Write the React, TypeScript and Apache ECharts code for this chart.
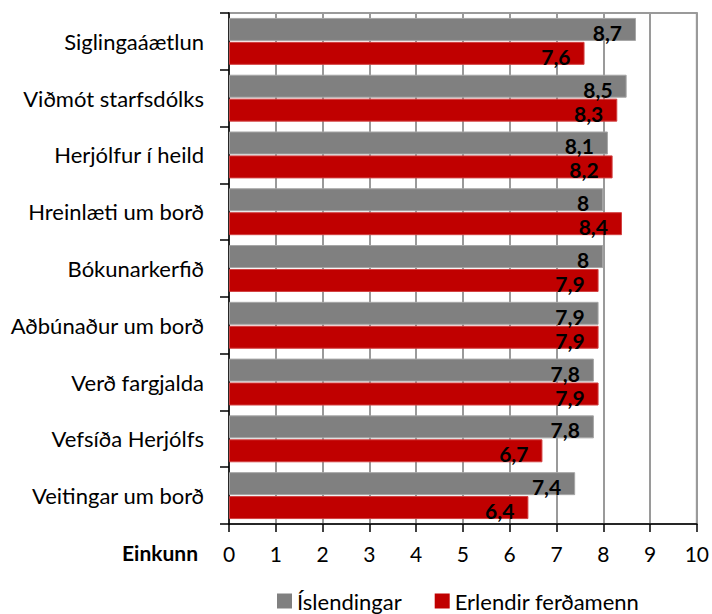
import React, { useEffect, useRef } from "react";
import * as echarts from "echarts";

const categories = [
  "Siglingaáætlun",
  "Viðmót starfsdólks",
  "Herjólfur í heild",
  "Hreinlæti um borð",
  "Bókunarkerfið",
  "Aðbúnaður um borð",
  "Verð fargjalda",
  "Vefsíða Herjólfs",
  "Veitingar um borð",
];
const islendingar = [8.7, 8.5, 8.1, 8, 8, 7.9, 7.8, 7.8, 7.4];
const erlendir = [7.6, 8.3, 8.2, 8.4, 7.9, 7.9, 7.9, 6.7, 6.4];
const xTicks = [0, 1, 2, 3, 4, 5, 6, 7, 8, 9, 10];

const FONT = "Lato, 'Open Sans', sans-serif";

export default function App() {
  const ref = useRef<HTMLDivElement>(null);
  useEffect(() => {
    document.body.style.margin = "0";
    document.body.style.overflow = "hidden";
    if (!ref.current) return;
    const chart = echarts.init(ref.current, undefined, { renderer: "svg" });
    const label = {
      show: true,
      position: "insideRight",
      distance: 14,
      offset: [0, 3],
      color: "#000",
      fontWeight: "bold",
      fontSize: 21,
      fontFamily: FONT,
      formatter: (p: any) => String(p.value).replace(".", ","),
    };
    chart.setOption({
      animation: false,
      textStyle: { fontFamily: FONT },
      grid: {
        left: 229,
        right: 14,
        top: 13,
        bottom: 90,
        show: true,
        borderColor: "#9a9a9a",
        borderWidth: 2,
      },
      legend: {
        top: 590,
        left: 277,
        padding: 0,
        icon: "rect",
        itemWidth: 15,
        itemHeight: 15,
        itemGap: 33,
        itemStyle: { borderWidth: 0 },
        textStyle: { fontSize: 22, color: "#000", fontFamily: FONT },
        data: ["Íslendingar", "Erlendir ferðamenn"],
      },
      xAxis: {
        type: "value",
        min: 0,
        max: 10,
        interval: 1,
        name: "Einkunn",
        nameLocation: "start",
        nameGap: 31,
        nameTextStyle: {
          fontWeight: "bold",
          fontSize: 21,
          color: "#000",
          fontFamily: FONT,
          verticalAlign: "top",
          padding: [18, 0, 0, 0],
        },
        axisLine: { show: true, lineStyle: { color: "#000", width: 1.5 } },
        axisTick: { show: true, length: 8, lineStyle: { color: "#000", width: 1.5 } },
        axisLabel: {
          fontSize: 21,
          color: "#000",
          margin: 19,
          fontFamily: FONT,
          formatter: (v: number) => (xTicks.includes(v) ? String(v) : ""),
        },
        splitLine: { show: true, lineStyle: { color: "#9a9a9a", width: 2 } },
      },
      yAxis: {
        type: "category",
        data: categories,
        inverse: true,
        axisLine: { show: true, lineStyle: { color: "#000", width: 1.5 } },
        axisTick: { show: true, length: 9, lineStyle: { color: "#000", width: 1.5 } },
        axisLabel: { fontSize: 22, color: "#000", margin: 25, fontFamily: FONT },
      },
      series: [
        {
          name: "Íslendingar",
          type: "bar",
          data: islendingar,
          barWidth: 23,
          barGap: "4%",
          itemStyle: { color: "#808080", borderColor: "#a6a6a6", borderWidth: 1 },
          label,
        },
        {
          name: "Erlendir ferðamenn",
          type: "bar",
          data: erlendir,
          barWidth: 23,
          barGap: "4%",
          itemStyle: { color: "#c00000", borderColor: "#d24040", borderWidth: 1 },
          label,
        },
      ],
    });
    return () => chart.dispose();
  }, []);
  return (
    <div
      ref={ref}
      style={{ position: "absolute", left: 0, top: 0, width: 712, height: 614 }}
    />
  );
}
